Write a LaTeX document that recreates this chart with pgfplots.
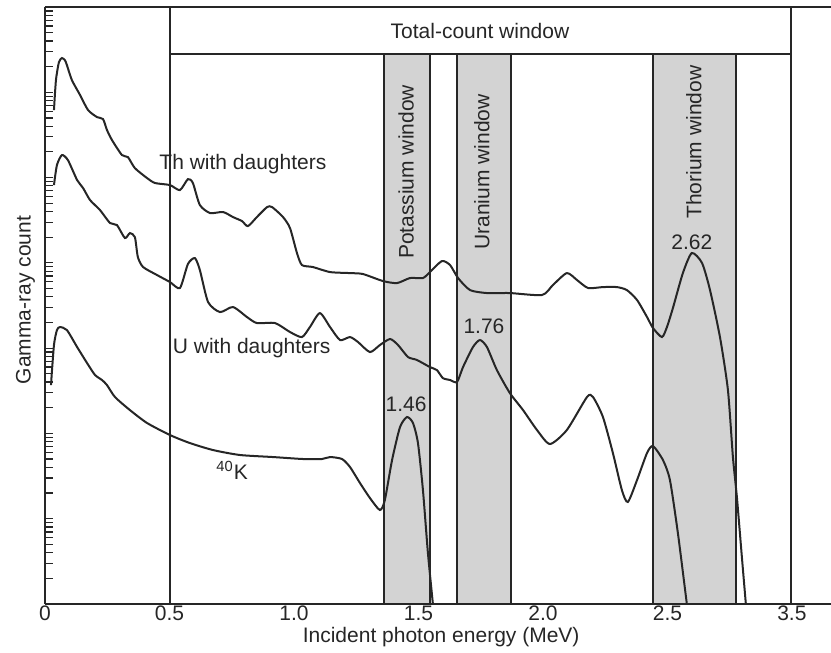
\documentclass[border=0pt]{standalone}
\usepackage{fontspec}
\setmainfont{Liberation Sans}
\usepackage{pgfplots}
\pgfplotsset{compat=1.18}
\definecolor{winfill}{RGB}{211,211,211}
\definecolor{ink}{RGB}{38,38,38}

\begin{document}
\begin{tikzpicture}[font=\fontsize{10.5}{12.6}\selectfont]
\begin{axis}[
  name=ax,
  scale only axis, width=393pt, height=298.5pt,
  xmin=0, xmax=3.157, ymin=0, ymax=7,
  axis x line=box, axis y line=left,
  axis line style={-, line width=0.9pt, ink},
  xtick={0,0.5,1,1.5,2,2.5,3},
  xticklabels={0,0.5,1.0,1.5,2.0,2.5,3.5},
  x tick style={draw=none},
  xticklabel pos=lower,
  xticklabel style={yshift=2.5pt, text=ink},
  ytick={0,1,...,7}, yticklabels={},
  minor ytick={0.301,0.477,0.602,0.699,0.778,0.845,0.903,0.954,
    1.301,1.477,1.602,1.699,1.778,1.845,1.903,1.954,
    2.301,2.477,2.602,2.699,2.778,2.845,2.903,2.954,
    3.301,3.477,3.602,3.699,3.778,3.845,3.903,3.954,
    4.301,4.477,4.602,4.699,4.778,4.845,4.903,4.954,
    5.301,5.477,5.602,5.699,5.778,5.845,5.903,5.954,
    6.301,6.477,6.602,6.699,6.778,6.845,6.903,6.954},
  y tick style={ink, line width=0.6pt},
  major tick length=4pt, minor tick length=4pt,
  tick align=inside,
  xlabel={Incident photon energy (MeV)},
  ylabel={Gamma-ray count},
  xlabel style={at={(axis description cs:0.504,-0.056)}, anchor=center, text=ink},
  ylabel style={at={(axis description cs:-0.025,0.509)}, anchor=center, text=ink},
  /pgf/number format/assume math mode=true,
]
% energy windows
\addplot[fill=winfill, draw=ink, line width=0.7pt] coordinates {(1.361,0) (1.361,6.448) (1.546,6.448) (1.546,0) (1.361,0)};
\addplot[fill=winfill, draw=ink, line width=0.7pt] coordinates {(1.655,0) (1.655,6.448) (1.871,6.448) (1.871,0) (1.655,0)};
\addplot[fill=winfill, draw=ink, line width=0.7pt] coordinates {(2.442,0) (2.442,6.448) (2.775,6.448) (2.775,0) (2.442,0)};
% total-count window
\addplot[ink, line width=0.8pt] coordinates {(0.502,0) (0.502,7)};
\addplot[ink, line width=0.8pt] coordinates {(2.996,0) (2.996,7)};
\addplot[ink, line width=0.8pt] coordinates {(0.502,6.448) (2.996,6.448)};

% Th with daughters
\addplot[ink, line width=1pt, smooth, tension=0.4] coordinates {
(0.036,5.791) (0.044,6.143) (0.056,6.354) (0.068,6.401) (0.080,6.377) (0.088,6.319)
(0.108,6.143) (0.141,5.967) (0.173,5.791) (0.209,5.709) (0.233,5.686) (0.249,5.557)
(0.269,5.440) (0.309,5.264) (0.333,5.240) (0.361,5.111) (0.410,4.994) (0.442,4.936)
(0.502,4.912) (0.542,4.853) (0.574,4.982) (0.594,4.936) (0.622,4.678) (0.663,4.584)
(0.715,4.596) (0.755,4.537) (0.791,4.490) (0.815,4.431) (0.851,4.537) (0.892,4.654)
(0.912,4.654) (0.956,4.537) (0.984,4.408) (1.012,4.115) (1.032,3.974) (1.076,3.951)
(1.145,3.892) (1.225,3.880) (1.277,3.869) (1.357,3.787) (1.414,3.763) (1.466,3.822)
(1.518,3.822) (1.546,3.892) (1.594,4.021) (1.627,3.974) (1.659,3.822) (1.707,3.681)
(1.775,3.646) (1.867,3.646) (1.996,3.623) (2.040,3.740) (2.096,3.880) (2.137,3.798)
(2.181,3.705) (2.241,3.716) (2.297,3.716) (2.337,3.681) (2.378,3.564) (2.418,3.365)
(2.442,3.236) (2.478,3.130) (2.498,3.247) (2.522,3.470) (2.562,3.880) (2.598,4.115)
(2.639,3.998) (2.671,3.681) (2.711,3.130) (2.743,2.509) (2.763,1.723) (2.779,1.254)
(2.799,0.551) (2.815,0)
};
% U with daughters
\addplot[ink, line width=1pt, smooth, tension=0.4] coordinates {
(0.036,4.912) (0.048,5.147) (0.068,5.264) (0.092,5.205) (0.129,4.971) (0.153,4.877)
(0.181,4.736) (0.221,4.619) (0.261,4.467) (0.289,4.443) (0.321,4.291) (0.341,4.349)
(0.361,4.302) (0.373,4.068) (0.394,3.951) (0.450,3.857) (0.502,3.775) (0.542,3.705)
(0.574,3.986) (0.602,4.056) (0.622,3.916) (0.655,3.540) (0.703,3.423) (0.755,3.482)
(0.811,3.365) (0.851,3.294) (0.924,3.294) (0.984,3.189) (1.032,3.130) (1.064,3.247)
(1.104,3.411) (1.145,3.247) (1.185,3.095) (1.225,3.130) (1.257,3.072) (1.305,2.954)
(1.345,3.036) (1.386,3.107) (1.418,3.036) (1.458,2.896) (1.494,2.861) (1.546,2.778)
(1.574,2.743) (1.598,2.649) (1.627,2.626) (1.655,2.603) (1.679,2.778) (1.719,3.013)
(1.747,3.095) (1.775,3.013) (1.815,2.743) (1.867,2.474) (1.920,2.274) (1.976,2.040)
(2.028,1.876) (2.096,2.040) (2.177,2.427) (2.201,2.427) (2.241,2.192) (2.281,1.770)
(2.317,1.336) (2.341,1.196) (2.378,1.454) (2.418,1.770) (2.442,1.852) (2.482,1.688)
(2.510,1.454) (2.542,0.832) (2.578,0)
};
% 40K
\addplot[ink, line width=1pt, smooth, tension=0.4] coordinates {
(0.024,2.567) (0.036,3.036) (0.048,3.212) (0.060,3.247) (0.088,3.212) (0.129,3.013)
(0.169,2.825) (0.201,2.685) (0.229,2.626) (0.249,2.567) (0.281,2.427) (0.341,2.274)
(0.410,2.122) (0.502,1.981) (0.582,1.887) (0.675,1.805) (0.783,1.747) (0.916,1.723)
(1.036,1.700) (1.112,1.700) (1.145,1.723) (1.193,1.700) (1.225,1.606) (1.265,1.419)
(1.305,1.243) (1.345,1.102) (1.365,1.219) (1.394,1.688) (1.426,2.075) (1.454,2.192)
(1.478,2.122) (1.498,1.887) (1.518,1.336) (1.538,0.598) (1.558,0)
};

\node[text=ink] at (axis cs:1.747,6.717) {Total-count window};
\node[text=ink, rotate=90] at (axis cs:1.450,5.065) {Potassium window};
\node[text=ink, rotate=90] at (axis cs:1.755,5.065) {Uranium window};
\node[text=ink, rotate=90] at (axis cs:2.606,5.416) {Thorium window};
\node[text=ink, anchor=west, inner sep=0pt] at (axis cs:0.458,5.158) {Th with daughters};
\node[text=ink, anchor=west, inner sep=0pt] at (axis cs:0.512,3.001) {U with daughters};
\node[text=ink, anchor=west, inner sep=0pt] at (axis cs:0.687,1.571) {\textsuperscript{40}K};
\node[text=ink] at (axis cs:1.450,2.345) {1.46};
\node[text=ink] at (axis cs:1.763,3.259) {1.76};
\node[text=ink] at (axis cs:2.598,4.244) {2.62};
\end{axis}
\path (ax.south west) ++(-22.5pt,-24.5pt) coordinate (bl);
\path (ax.north east) ++(0pt,3.5pt) coordinate (tr);
\pgfresetboundingbox
\path[use as bounding box] (bl) rectangle (tr);
\end{tikzpicture}
\end{document}
